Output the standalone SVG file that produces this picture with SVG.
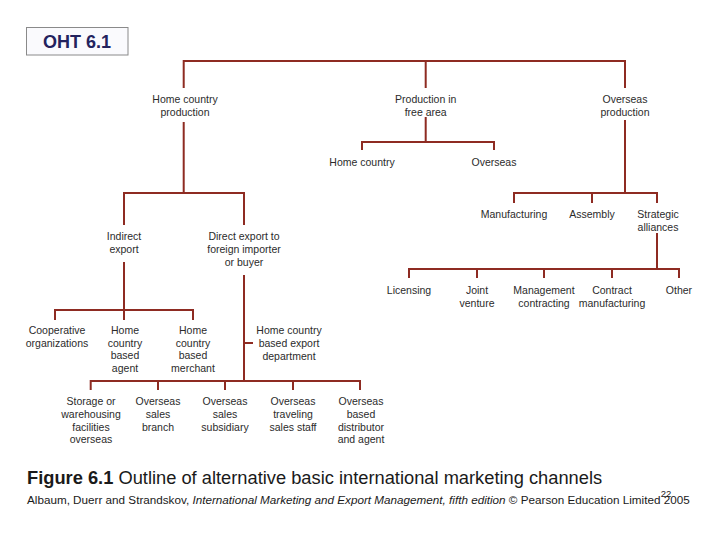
<svg xmlns="http://www.w3.org/2000/svg" width="720" height="540" viewBox="0 0 720 540">
<style>
.n{font-family:"Liberation Sans",Arial,sans-serif;font-size:10.5px;fill:#2b2b2b;text-anchor:middle}
.ln{fill:none;stroke:#8e2b22;stroke-width:2}
</style>
<rect width="720" height="540" fill="#ffffff"/>
<g id="oht">
<rect x="26.5" y="27.5" width="101.5" height="27.5" fill="#fafafd" stroke="#8a8a8a" stroke-width="1"/>
<text x="77" y="47.5" font-family="Liberation Sans,Arial,sans-serif" font-size="18" font-weight="bold" fill="#23235e" text-anchor="middle">OHT 6.1</text>
</g>
<g id="connectors" class="ln">
<path d="M183.7,88 V61 H625 V88 M425.7,61 V88"/>
<path d="M183.7,122 V193 M124,225 V193 H244 V225"/>
<path d="M124,262 V320 M55,320 V310 H193 V320"/>
<path d="M244,275 V381 M244,343 H253 M90.7,390 V381 H360 V390 M158,381 V390 M225,381 V390 M293,381 V390"/>
<path d="M425.7,117 V142 M362,150 V142 H494 V150"/>
<path d="M625,120 V193 M514,203 V193 H657 V203 M592,193 V203"/>
<path d="M657,233 V269 M409,278 V269 H679 V278 M477,269 V278 M544,269 V278 M612,269 V278"/>
</g>
<g id="n-home-production" class="n"><text x="185" y="103">Home country</text><text x="185" y="115.5">production</text></g>
<g id="n-free-area" class="n"><text x="425.7" y="103">Production in</text><text x="425.7" y="115.5">free area</text></g>
<g id="n-overseas-production" class="n"><text x="625" y="103">Overseas</text><text x="625" y="115.5">production</text></g>
<g id="n-free-home" class="n"><text x="362" y="165.5">Home country</text></g>
<g id="n-free-overseas" class="n"><text x="494" y="165.5">Overseas</text></g>
<g id="n-indirect" class="n"><text x="124" y="240">Indirect</text><text x="124" y="253">export</text></g>
<g id="n-direct" class="n"><text x="244" y="240">Direct export to</text><text x="244" y="253">foreign importer</text><text x="244" y="266">or buyer</text></g>
<g id="n-manufacturing" class="n"><text x="514" y="218">Manufacturing</text></g>
<g id="n-assembly" class="n"><text x="592" y="218">Assembly</text></g>
<g id="n-strategic" class="n"><text x="658" y="218">Strategic</text><text x="658" y="231">alliances</text></g>
<g id="n-licensing" class="n"><text x="409" y="294">Licensing</text></g>
<g id="n-joint" class="n"><text x="477" y="294">Joint</text><text x="477" y="307">venture</text></g>
<g id="n-management" class="n"><text x="544" y="294">Management</text><text x="544" y="307">contracting</text></g>
<g id="n-contract" class="n"><text x="612" y="294">Contract</text><text x="612" y="307">manufacturing</text></g>
<g id="n-other" class="n"><text x="679" y="294">Other</text></g>
<g id="n-cooperative" class="n"><text x="57" y="333.5">Cooperative</text><text x="57" y="346.5">organizations</text></g>
<g id="n-agent" class="n"><text x="125" y="333.5">Home</text><text x="125" y="346.5">country</text><text x="125" y="359">based</text><text x="125" y="372">agent</text></g>
<g id="n-merchant" class="n"><text x="193" y="333.5">Home</text><text x="193" y="346.5">country</text><text x="193" y="359">based</text><text x="193" y="372">merchant</text></g>
<g id="n-export-dept" class="n"><text x="289" y="333.5">Home country</text><text x="289" y="346.5">based export</text><text x="289" y="359.5">department</text></g>
<g id="n-storage" class="n"><text x="91" y="404.5">Storage or</text><text x="91" y="417.5">warehousing</text><text x="91" y="430.5">facilities</text><text x="91" y="443">overseas</text></g>
<g id="n-branch" class="n"><text x="158" y="404.5">Overseas</text><text x="158" y="417.5">sales</text><text x="158" y="430.5">branch</text></g>
<g id="n-subsidiary" class="n"><text x="225" y="404.5">Overseas</text><text x="225" y="417.5">sales</text><text x="225" y="430.5">subsidiary</text></g>
<g id="n-traveling" class="n"><text x="293" y="404.5">Overseas</text><text x="293" y="417.5">traveling</text><text x="293" y="430.5">sales staff</text></g>
<g id="n-distributor" class="n"><text x="361" y="404.5">Overseas</text><text x="361" y="417.5">based</text><text x="361" y="430.5">distributor</text><text x="361" y="443">and agent</text></g>
<g id="caption">
<text x="27" y="484" font-family="Liberation Sans,Arial,sans-serif" font-size="18.3" fill="#1a1a1a"><tspan font-weight="bold">Figure 6.1</tspan>  Outline of alternative basic international marketing channels</text>
<text x="27" y="503.5" font-family="Liberation Sans,Arial,sans-serif" font-size="11.7" fill="#1a1a1a">Albaum, Duerr and Strandskov, <tspan font-style="italic">International Marketing and Export Management, fifth edition</tspan> © Pearson Education Limited 2005</text>
<text x="666" y="497" font-family="Liberation Sans,Arial,sans-serif" font-size="9.5" fill="#1a1a1a" text-anchor="middle">22</text>
</g>
</svg>
